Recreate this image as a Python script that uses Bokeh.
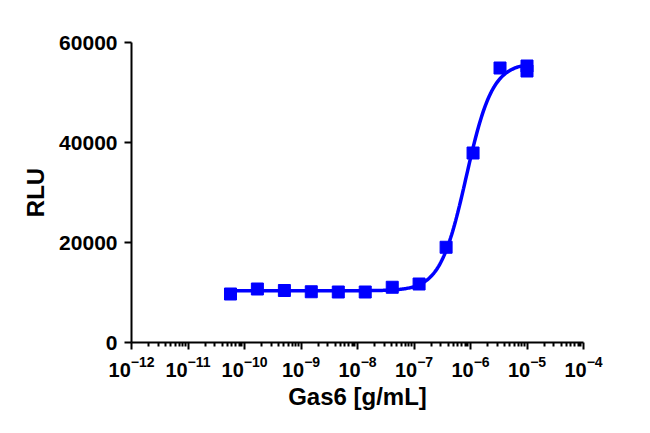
import numpy as np
from bokeh.plotting import figure
from bokeh.models import FixedTicker, LogTickFormatter, Range1d
from bokeh.embed import file_html
from bokeh.resources import INLINE

# ---- data ----
conc = [5.65e-11, 1.69e-10, 5.08e-10, 1.52e-9, 4.57e-9, 1.37e-8,
        4.12e-8, 1.23e-7, 3.70e-7, 1.11e-6, 3.33e-6, 1.0e-5, 1.0e-5]
rlu = [9700, 10700, 10400, 10150, 10100, 10100,
       11050, 11700, 19050, 37900, 54900, 55300, 54300]
x_tick_exponents = [-12, -11, -10, -9, -8, -7, -6, -5, -4]
y_ticks = [0, 20000, 40000, 60000]
x_label = "Gas6 [g/mL]"
y_label = "RLU"

# ---- 4-parameter logistic fit (grid search over logEC50 / Hill, linear B/T) ----
lx = np.log10(np.array(conc))
yv = np.array(rlu, dtype=float)
Lg = np.linspace(-7.5, -5.0, 501)[:, None, None]
Hg = np.linspace(0.5, 4.0, 351)[None, :, None]
f = 1.0 / (1.0 + 10 ** ((Lg - lx[None, None, :]) * Hg))
g = 1.0 - f
a11 = (g * g).sum(-1); a12 = (g * f).sum(-1); a22 = (f * f).sum(-1)
b1 = (g * yv).sum(-1); b2 = (f * yv).sum(-1)
det = a11 * a22 - a12 * a12
B = (a22 * b1 - a12 * b2) / det
T = (a11 * b2 - a12 * b1) / det
pred = B[..., None] * g + T[..., None] * f
sse = ((pred - yv) ** 2).sum(-1)
i, j = np.unravel_index(np.argmin(sse), sse.shape)
bot, top, logec, hill = B[i, j], T[i, j], Lg[i, 0, 0], Hg[0, j, 0]
cx = np.linspace(lx.min(), lx.max(), 300)
cy = bot + (top - bot) / (1 + 10 ** ((logec - cx) * hill))

blue = "#0000FF"
font = "Liberation Sans"

p = figure(width=640, height=430, x_axis_type="log",
           x_range=Range1d(10.0 ** x_tick_exponents[0], 10.0 ** x_tick_exponents[-1]),
           y_range=Range1d(y_ticks[0], y_ticks[-1]),
           output_backend="svg", toolbar_location=None,
           min_border_left=131, min_border_right=57,
           min_border_top=42, min_border_bottom=88)
p.outline_line_color = None
p.xgrid.visible = False
p.ygrid.visible = False

p.line(10 ** cx, cy, line_color=blue, line_width=3.5)
p.scatter(conc, rlu, marker="square", size=12, fill_color=blue, line_color=blue)

majors = [10.0 ** e for e in x_tick_exponents]
minors = [k * 10.0 ** e for e in x_tick_exponents[:-1] for k in range(2, 10)]
p.xaxis.ticker = FixedTicker(ticks=majors, minor_ticks=minors)
p.xaxis.formatter = LogTickFormatter()
p.yaxis.ticker = FixedTicker(ticks=y_ticks, minor_ticks=[])

for ax in (p.xaxis[0], p.yaxis[0]):
    ax.axis_line_width = 2
    ax.axis_line_color = "black"
    ax.major_tick_line_width = 2
    ax.major_tick_in = 0
    ax.major_tick_out = 7
    ax.minor_tick_in = 0
    ax.major_label_text_font = font
    ax.major_label_text_font_style = "bold"
    ax.major_label_text_color = "black"
    ax.axis_label_text_font = font
    ax.axis_label_text_font_style = "bold"
    ax.axis_label_text_font_size = "24px"
    ax.axis_label_text_color = "black"

p.xaxis.minor_tick_out = 4
p.xaxis.minor_tick_line_width = 2
p.yaxis.minor_tick_out = 0
p.xaxis.major_label_text_font_size = "20px"
p.yaxis.major_label_text_font_size = "21px"
p.xaxis.major_label_standoff = 6
p.yaxis.major_label_standoff = 7
p.xaxis.axis_label = x_label
p.yaxis.axis_label = y_label
p.xaxis.axis_label_standoff = 3
p.yaxis.axis_label_standoff = 7

open("out.html", "w").write(file_html(p, INLINE))
